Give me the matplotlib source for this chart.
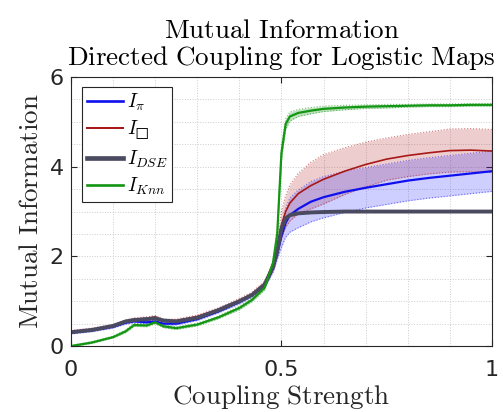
import numpy as np
import matplotlib as mpl
mpl.use('Agg')
import matplotlib.pyplot as plt
from matplotlib.ticker import MultipleLocator

plt.rcParams['mathtext.fontset'] = 'cm'
plt.rcParams['font.family'] = 'DejaVu Sans'

# coupling strength samples
coupling = [0, 0.05, 0.1, 0.13, 0.15, 0.18, 0.2, 0.22, 0.25, 0.3, 0.35, 0.4, 0.43, 0.46,
            0.48, 0.49, 0.5, 0.51, 0.52, 0.54, 0.57, 0.6, 0.65, 0.7, 0.75, 0.8, 0.85, 0.9,
            0.95, 1.0]

mi_pi = [0.30, 0.35, 0.43, 0.52, 0.55, 0.53, 0.55, 0.50, 0.50, 0.60, 0.77, 0.98, 1.13, 1.35,
         1.72, 2.05, 2.45, 2.75, 2.92, 3.06, 3.22, 3.32, 3.44, 3.53, 3.61, 3.69, 3.75, 3.80,
         3.85, 3.90]
sd_pi = [0.03, 0.03, 0.03, 0.03, 0.03, 0.03, 0.03, 0.03, 0.03, 0.03, 0.03, 0.04, 0.04, 0.05,
         0.08, 0.12, 0.25, 0.32, 0.38, 0.42, 0.45, 0.46, 0.46, 0.45, 0.45, 0.45, 0.45, 0.45,
         0.45, 0.45]

mi_box = [0.32, 0.37, 0.45, 0.55, 0.60, 0.62, 0.65, 0.57, 0.57, 0.66, 0.82, 1.02, 1.16, 1.40,
          1.80, 2.18, 2.70, 3.00, 3.19, 3.40, 3.58, 3.72, 3.90, 4.05, 4.17, 4.25, 4.31, 4.36,
          4.37, 4.35]
sd_box = [0.03, 0.03, 0.03, 0.03, 0.03, 0.03, 0.03, 0.03, 0.03, 0.03, 0.03, 0.04, 0.04, 0.05,
          0.08, 0.12, 0.30, 0.35, 0.40, 0.45, 0.52, 0.55, 0.52, 0.50, 0.47, 0.47, 0.47, 0.48,
          0.48, 0.48]

mi_dse = [0.31, 0.36, 0.45, 0.55, 0.58, 0.60, 0.62, 0.57, 0.55, 0.63, 0.80, 1.00, 1.14, 1.37,
          1.76, 2.12, 2.62, 2.85, 2.92, 2.96, 2.98, 2.99, 3.0, 3.0, 3.0, 3.0, 3.0, 3.0,
          3.0, 3.0]

mi_knn = [0.0, 0.08, 0.20, 0.33, 0.47, 0.46, 0.53, 0.44, 0.40, 0.48, 0.64, 0.85, 1.03, 1.30,
          1.85, 2.50, 4.30, 4.95, 5.12, 5.20, 5.25, 5.29, 5.32, 5.34, 5.35, 5.36, 5.37, 5.37,
          5.38, 5.38]
sd_knn = [0.02, 0.02, 0.02, 0.03, 0.03, 0.03, 0.03, 0.03, 0.03, 0.03, 0.03, 0.04, 0.04, 0.05,
          0.08, 0.12, 0.15, 0.12, 0.10, 0.08, 0.07, 0.06, 0.05, 0.04, 0.04, 0.03, 0.03, 0.03,
          0.03, 0.03]

x = np.array(coupling)

fig = plt.figure(figsize=(5.03, 4.12), dpi=100)
ax = fig.add_axes([0.141, 0.160, 0.837, 0.653])

bands = [(mi_box, sd_box, '#b01c1c', 0.22),
         (mi_pi, sd_pi, '#2222ff', 0.22),
         (mi_knn, sd_knn, '#1a9a1a', 0.28)]
for m, s, c, a in bands:
    m = np.array(m)
    s = np.array(s)
    ax.fill_between(x, m - s, m + s, color=c, alpha=a, lw=0)
    ax.plot(x, m - s, ':', color=c, lw=0.8, alpha=0.6)
    ax.plot(x, m + s, ':', color=c, lw=0.8, alpha=0.6)

ax.plot(x, mi_pi, color='#1010ee', lw=1.6, label=r'$I_\pi$')
ax.plot(x, mi_box, color='#a81818', lw=1.2, label='$I_{\u25a1}$')
ax.plot(x, mi_dse, color='#4a4a60', lw=2.8, label=r'$I_{DSE}$')
ax.plot(x, mi_knn, color='#149614', lw=1.6, label=r'$I_{Knn}$')

ax.set_xlim(0, 1)
ax.set_ylim(0, 6)
ax.xaxis.set_minor_locator(MultipleLocator(0.1))
ax.yaxis.set_minor_locator(MultipleLocator(0.5))
ax.set_xticks([0, 0.5, 1])
ax.set_xticklabels(['0', '0.5', '1'], fontsize=16, color='#262626')
ax.set_yticks([0, 2, 4, 6])
ax.set_yticklabels(['0', '2', '4', '6'], fontsize=16, color='#262626')
ax.tick_params(direction='in', which='both', top=True, right=True, length=4, color='#262626')
ax.tick_params(axis='x', pad=10)
ax.tick_params(axis='y', pad=5)
ax.tick_params(which='minor', length=0)
ax.grid(True, which='both', ls=':', color='#cccccc', lw=0.7)
ax.set_axisbelow(True)
for sp in ax.spines.values():
    sp.set_color('#262626')
    sp.set_linewidth(0.8)

ax.set_xlabel(r'$\mathrm{Coupling\ Strength}$', fontsize=19.5, labelpad=2, color='#262626')
ax.set_ylabel(r'$\mathrm{Mutual\ Information}$', fontsize=19.5, labelpad=4, color='#262626')
ax.set_title('$\\mathrm{Mutual\\ Information}$\n$\\mathrm{Directed\\ Coupling\\ for\\ Logistic\\ Maps}$',
             fontsize=19.5, pad=9, linespacing=1.0)

leg = ax.legend(loc='upper left', fontsize=14, fancybox=False, edgecolor='#262626',
                framealpha=1, handlelength=1.85, labelspacing=0.32, borderpad=0.25,
                handletextpad=0.2, borderaxespad=0, bbox_to_anchor=(0.026, 0.963))
leg.get_frame().set_linewidth(0.8)
for ln in leg.get_lines():
    ln.set_linewidth(ln.get_linewidth() * 1.2)

fig.savefig('out.png', dpi=100)
